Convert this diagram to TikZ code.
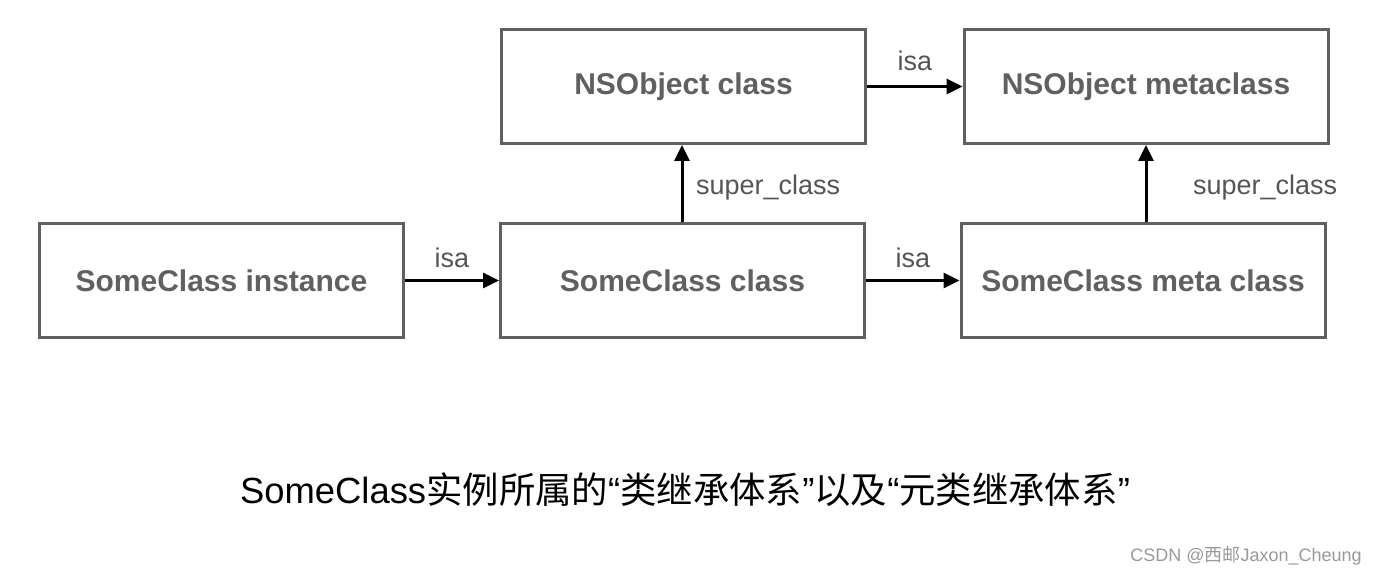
\documentclass[tikz,border=0pt]{standalone}
\usepackage{fontspec}
\setmainfont{Liberation Sans}
\newfontfamily\cjk{Noto Sans CJK SC}
\usetikzlibrary{arrows.meta}
\definecolor{boxgray}{HTML}{606060}
\definecolor{lblgray}{HTML}{555555}
\definecolor{markgray}{HTML}{999999}
\tikzset{
  classbox/.style={draw=boxgray, line width=1.5pt, minimum width=182pt, minimum height=57pt,
    text=boxgray, font=\fontsize{15}{18}\selectfont\bfseries},
  link/.style={line width=1.5pt, -{Triangle[length=8pt,width=7.5pt]}},
  lbl/.style={text=lblgray, font=\fontsize{13.5}{16}\selectfont}
}
\begin{document}
\begin{tikzpicture}[x=0.5pt,y=-0.5pt]
\useasboundingbox (0,0) rectangle (1380,576);
\node[classbox] (inst) at (221.5,280.5) {SomeClass instance};
\node[classbox] (cls) at (682.5,280.5) {SomeClass class};
\node[classbox] (meta) at (1143,280.5) {SomeClass meta class};
\node[classbox] (nscls) at (683.5,86.5) {NSObject class};
\node[classbox] (nsmeta) at (1146,86.5) {NSObject metaclass};
\draw[link] (inst.east) -- (cls.west) node[lbl,midway,above=2.5pt]{isa};
\draw[link] (cls.east) -- (meta.west) node[lbl,midway,above=2.5pt]{isa};
\draw[link] (nscls.east) -- (nsmeta.west) node[lbl,midway,above=4pt]{isa};
\draw[link] (cls.north -| 682,0) -- (nscls.south -| 682,0) node[lbl,midway,right=3pt,yshift=-2pt]{super\_class};
\draw[link] (meta.north -| nsmeta.south) -- (nsmeta.south) node[lbl,midway,right=19.5pt,yshift=-2pt]{super\_class};
\node (caption) at (685,490) {\fontsize{18.2}{22}\selectfont SomeClass{\cjk 实例所属的}“{\cjk 类继承体系}”{\cjk 以及}“{\cjk 元类继承体系}”};
\node[text=markgray] (mark) at (1246,556) {\fontsize{9}{11}\selectfont CSDN @{\cjk 西邮}Jaxon\_Cheung};
\end{tikzpicture}
\end{document}
